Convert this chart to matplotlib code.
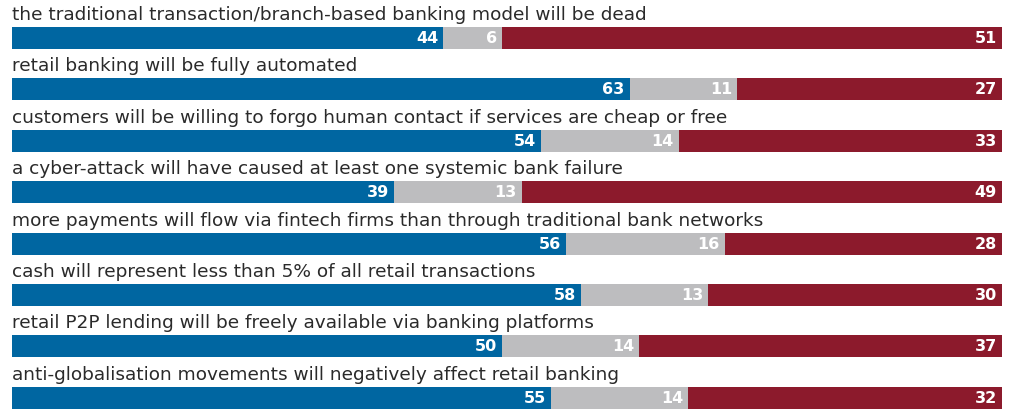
import numpy as np
import matplotlib.pyplot as plt

labels = [
    "the traditional transaction/branch-based banking model will be dead",
    "retail banking will be fully automated",
    "customers will be willing to forgo human contact if services are cheap or free",
    "a cyber-attack will have caused at least one systemic bank failure",
    "more payments will flow via fintech firms than through traditional bank networks",
    "cash will represent less than 5% of all retail transactions",
    "retail P2P lending will be freely available via banking platforms",
    "anti-globalisation movements will negatively affect retail banking",
]
agree = [44, 63, 54, 39, 56, 58, 50, 55]
neutral = [6, 11, 14, 13, 16, 13, 14, 14]
disagree = [51, 27, 33, 49, 28, 30, 37, 32]

colors = ["#0066a1", "#bdbdbf", "#8c1a2c"]

W, H = 1019, 409
fig = plt.figure(figsize=(W / 100, H / 100), dpi=100)
x0, x1 = 12, 1002
ax = fig.add_axes([x0 / W, 0, (x1 - x0) / W, 1])
ax.set_xlim(0, 100)
ax.set_ylim(H, 0)
ax.axis("off")

row_step = 51.4
bar_top = 27
bar_h = 22

series = np.array([agree, neutral, disagree], dtype=float)
totals = series.sum(axis=0)
for i, lab in enumerate(labels):
    top = bar_top + row_step * i
    yc = top + bar_h / 2
    left = 0
    for k in range(3):
        w = series[k, i] / totals[i] * 100
        ax.barh(yc, w, left=left, height=bar_h, color=colors[k], linewidth=0)
        ax.text(left + w - 0.5, yc + 0.5, str(int(series[k, i])), color="white",
                fontsize=11.5, fontweight="bold", ha="right", va="center")
        left += w
    ax.text(0, top - 3, lab, fontsize=13.3, color="#2a2a2a", ha="left", va="bottom")

fig.savefig("out.png", dpi=100)
